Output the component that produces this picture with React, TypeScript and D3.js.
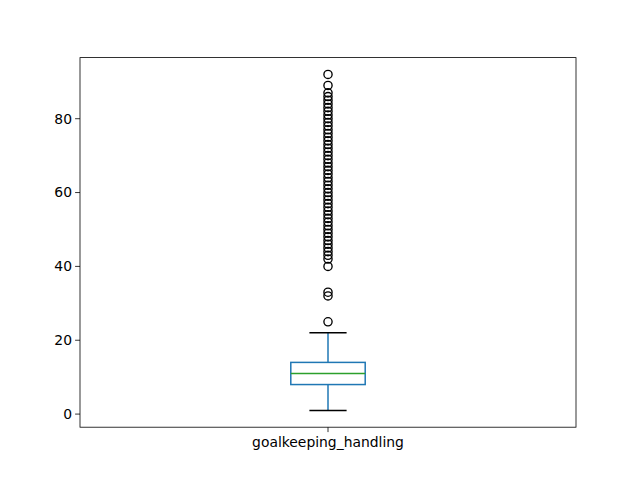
// Box plot of goalkeeping_handling, drawn with D3 scales in JSX
import * as d3 from "d3"

const categories = ["goalkeeping_handling"]
const whiskerLow = [1]
const q1 = [8]
const median = [11]
const q3 = [14]
const whiskerHigh = [22]
// flier values (integer ratings)
const outliers = [
  25, 32, 33, 40, 42, 43, 44, 45, 46, 47, 48, 49, 50, 51, 52, 53, 54, 55, 56, 57,
  58, 59, 60, 61, 62, 63, 64, 65, 66, 67, 68, 69, 70, 71, 72, 73, 74, 75, 76, 77,
  78, 79, 80, 81, 82, 83, 84, 85, 86, 87, 89, 92,
]
const yTicks = [0, 20, 40, 60, 80]

const W = 640
const H = 480
const margin = { left: 80, right: 64, top: 57.6, bottom: 52.8 }
const font = "DejaVu Sans, sans-serif"

export default function App() {
  const x = d3.scaleLinear().domain([0.5, 1.5]).range([margin.left, W - margin.right])
  const allVals = [...whiskerLow, ...whiskerHigh, ...outliers]
  const lo = d3.min(allVals)!
  const hi = d3.max(allVals)!
  const pad = (hi - lo) * 0.05
  const y = d3.scaleLinear().domain([lo - pad, hi + pad]).range([H - margin.bottom, margin.top])

  const boxW = 0.15
  const blue = "#1f77b4"

  return (
    <svg width={W} height={H} style={{ position: "absolute", left: 0, top: 0, background: "#fff" }}>
      {categories.map((c, i) => {
        const pos = i + 1
        const x0 = x(pos - boxW / 2)
        const x1 = x(pos + boxW / 2)
        const cx = x(pos)
        const c0 = x(pos - boxW / 4)
        const c1 = x(pos + boxW / 4)
        return (
          <g key={c}>
            {/* whiskers */}
            <line x1={cx} x2={cx} y1={y(q1[i])} y2={y(whiskerLow[i])} stroke={blue} strokeWidth={1.5} />
            <line x1={cx} x2={cx} y1={y(q3[i])} y2={y(whiskerHigh[i])} stroke={blue} strokeWidth={1.5} />
            {/* caps */}
            <line x1={c0} x2={c1} y1={y(whiskerLow[i])} y2={y(whiskerLow[i])} stroke="#000" strokeWidth={1.5} />
            <line x1={c0} x2={c1} y1={y(whiskerHigh[i])} y2={y(whiskerHigh[i])} stroke="#000" strokeWidth={1.5} />
            {/* box */}
            <rect x={x0} y={y(q3[i])} width={x1 - x0} height={y(q1[i]) - y(q3[i])} fill="none" stroke={blue} strokeWidth={1.5} />
            <line x1={x0} x2={x1} y1={y(median[i])} y2={y(median[i])} stroke="#2ca02c" strokeWidth={1.5} />
            {/* fliers */}
            {outliers.map((v, k) => (
              <circle key={k} cx={cx} cy={y(v)} r={4.1} fill="none" stroke="#000" strokeWidth={1.35} />
            ))}
            {/* x tick */}
            <line x1={cx} x2={cx} y1={H - margin.bottom} y2={H - margin.bottom + 4.9} stroke="#000" strokeWidth={0.8} />
            <text x={cx} y={H - margin.bottom + 20} textAnchor="middle" fontFamily={font} fontSize={13.9} fill="#000">{c}</text>
          </g>
        )
      })}

      {/* y axis ticks */}
      {yTicks.map((t) => (
        <g key={t}>
          <line x1={margin.left - 4.9} x2={margin.left} y1={y(t)} y2={y(t)} stroke="#000" strokeWidth={0.8} />
          <text x={margin.left - 8} y={y(t)} dy="0.35em" textAnchor="end" fontFamily={font} fontSize={13.9} fill="#000">{t}</text>
        </g>
      ))}

      {/* frame */}
      <rect x={margin.left} y={margin.top} width={W - margin.left - margin.right} height={H - margin.top - margin.bottom} fill="none" stroke="#000" strokeWidth={0.8} />
    </svg>
  )
}
